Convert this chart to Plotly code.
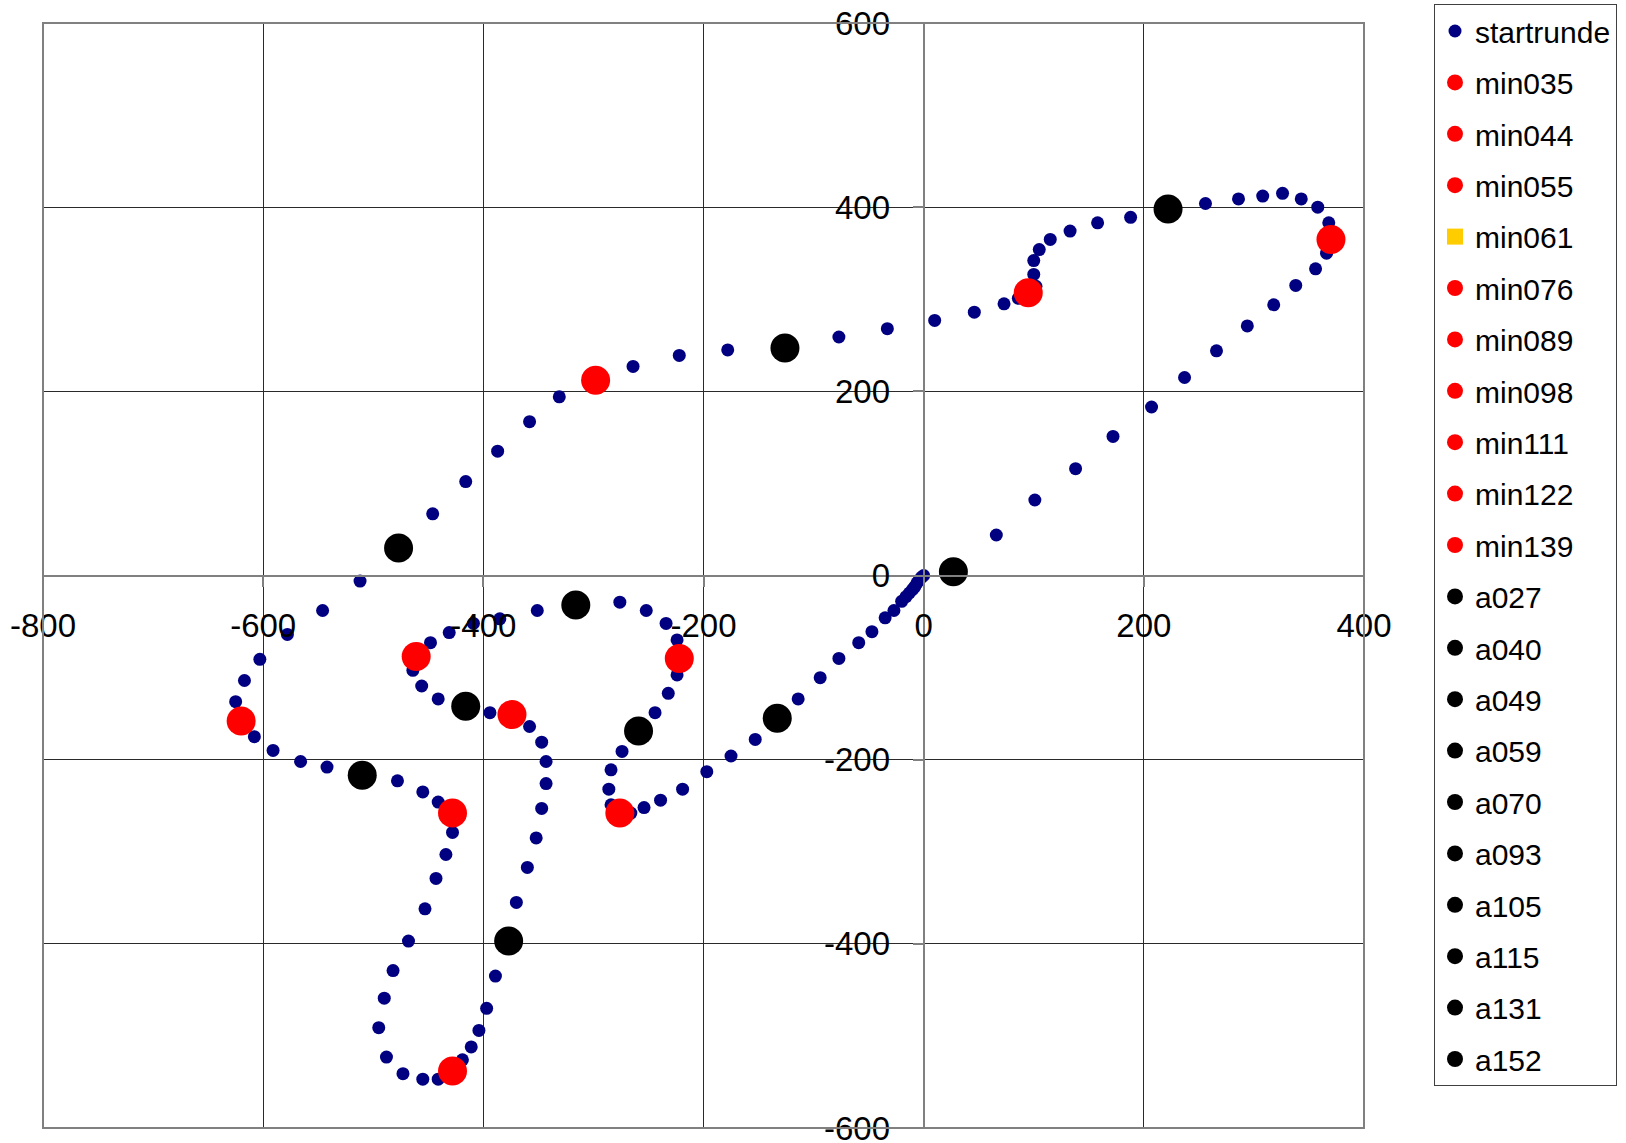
import plotly.graph_objects as go

# Track of the start lap (metres, relative to the start point)
startrunde_x = [0, -2, -4, -6, -8, -10, -13, -16, -20, -27, -35, -47, -59, -77, -94, -114,
                -153, -175, -197, -219, -239, -254, -266,
                -284, -286, -284, -274,
                -244, -232, -224,
                -224, -234, -252, -276,
                -351, -385, -409, -431, -448,
                -464, -456, -441,
                -394,
                -358, -347, -343, -343, -347, -352, -360, -370,
                -389, -397, -404, -411, -419,
                -441, -455, -473, -488, -495, -490, -482, -468, -453, -443, -434, -428,
                -441, -455, -478,
                -542, -566, -591, -608,
                -625, -617, -603, -578, -546, -512,
                -446, -416, -387, -358, -331,
                -264, -222, -178,
                -77, -33, 10, 46, 73, 86,
                102, 100, 100, 105, 115, 133, 158, 188,
                256, 286, 308, 326, 343, 358, 368,
                366, 356, 338, 318, 294, 266, 237, 207, 172, 138, 101, 66]
startrunde_y = [0, -2, -5, -8, -12, -15, -19, -23, -28, -38, -46, -61, -73, -90, -111, -134,
                -178, -196, -213, -232, -244, -252, -258,
                -249, -232, -211, -191,
                -149, -128, -108,
                -70, -52, -38, -29,
                -38, -47, -52, -62, -73,
                -103, -120, -134,
                -149,
                -164, -181, -202, -226, -253, -285, -317, -355,
                -435, -470, -494, -512, -526,
                -547, -547, -541, -523, -491, -459, -429, -397, -362, -329, -303, -279,
                -246, -235, -223,
                -208, -202, -190, -175,
                -137, -114, -91, -64, -38, -6,
                67, 102, 135, 167, 194,
                227, 239, 245,
                259, 268, 277, 286, 295, 301,
                314, 327, 342, 354, 365, 374, 383, 389,
                404, 409, 412, 415, 409, 400, 383,
                350, 333, 315, 294, 271, 244, 215, 183, 151, 116, 82, 44]

# Positions at selected minutes
min_labels = ["min035", "min044", "min055", "min061", "min076",
              "min089", "min098", "min111", "min122", "min139"]
min_x = [-276, -222, -461, -374, -428, -428, -620, -298, 95, 370]
min_y = [-258, -90, -88, -151, -538, -258, -158, 212, 307, 365]

a_labels = ["a027", "a040", "a049", "a059", "a070",
            "a093", "a105", "a115", "a131", "a152"]
a_x = [-133, -259, -316, -416, -377, -510, -477, -126, 222, 27]
a_y = [-155, -169, -32, -142, -397, -217, 30, 247, 398, 4]

# Axis ticks (plain hyphen for negatives)
x_ticks = [-800, -600, -400, -200, 0, 200, 400]
x_tick_labels = ["-800", "-600", "-400", "-200", "0", "200", "400"]
y_ticks = [-600, -400, -200, 0, 200, 400, 600]
y_tick_labels = ["-600", "-400", "-200", "0", "200", "400", "600"]

x_range = [-800, 400]
y_range = [-600, 600]

FONT = "Liberation Sans, Arial, sans-serif"
NAVY = "#000080"
RED = "#FF0000"
BLACK = "#000000"
YELLOW = "#FFCC00"

fig = go.Figure()

fig.add_trace(go.Scatter(
    x=startrunde_x, y=startrunde_y, mode="markers", name="startrunde",
    legendgroup="startrunde",
    marker=dict(color=NAVY, size=13, symbol="circle"),
))

for name, x, y in zip(min_labels, min_x, min_y):
    if name == "min061":
        # series carries a yellow square in the legend, its point is shown red
        fig.add_trace(go.Scatter(
            x=[None], y=[None], mode="markers", name=name, legendgroup=name,
            marker=dict(color=YELLOW, size=16, symbol="square"),
        ))
        fig.add_trace(go.Scatter(
            x=[x], y=[y], mode="markers", name=name, legendgroup=name,
            showlegend=False,
            marker=dict(color=RED, size=29, symbol="circle"),
        ))
    else:
        fig.add_trace(go.Scatter(
            x=[x], y=[y], mode="markers", name=name, legendgroup=name,
            marker=dict(color=RED, size=29, symbol="circle"),
        ))

for name, x, y in zip(a_labels, a_x, a_y):
    fig.add_trace(go.Scatter(
        x=[x], y=[y], mode="markers", name=name, legendgroup=name,
        marker=dict(color=BLACK, size=29, symbol="circle"),
    ))

# axes cross at the origin
x_cross = (0 - x_range[0]) / (x_range[1] - x_range[0])
y_cross = (0 - y_range[0]) / (y_range[1] - y_range[0])

axis_common = dict(
    showgrid=True, gridcolor="#2a2a2a", gridwidth=1,
    zeroline=False, showline=True, linecolor="#808080", linewidth=2,
    ticks="outside", ticklen=10, tickwidth=1.5, tickcolor="#808080",
    tickfont=dict(family=FONT, size=33, color="black"),
    tickmode="array", anchor="free", automargin=False,
    ticklabeloverflow="allow",
)

fig.update_layout(
    width=1626, height=1143,
    paper_bgcolor="white", plot_bgcolor="white",
    margin=dict(l=43, r=262, t=23, b=15, pad=0, autoexpand=False),
    xaxis=dict(range=x_range, position=y_cross, tickvals=x_ticks, ticktext=x_tick_labels,
               ticklabelstandoff=11, **axis_common),
    yaxis=dict(range=y_range, position=x_cross, tickvals=y_ticks, ticktext=y_tick_labels,
               ticklabelstandoff=16, **axis_common),
    legend=dict(
        x=(1434 - 43) / 1321, y=1 + (23 - 4) / 1105,
        xanchor="left", yanchor="top",
        bgcolor="white", bordercolor="#404040", borderwidth=1,
        font=dict(family=FONT, size=30, color="black"),
        traceorder="grouped", tracegroupgap=9.4, itemwidth=30,
        maxheight=1140,
    ),
    shapes=[dict(type="rect", xref="paper", yref="paper", x0=0, y0=0, x1=1, y1=1,
                 line=dict(color="#808080", width=2), layer="above")],
    showlegend=True,
)

fig.write_html("out.html", config={"displayModeBar": False})
